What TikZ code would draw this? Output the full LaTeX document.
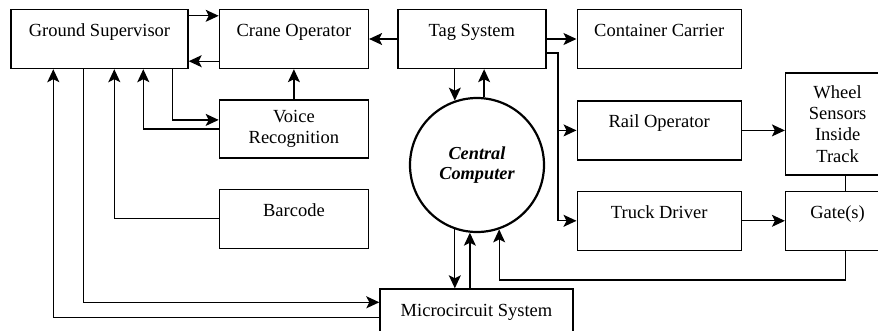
\documentclass[tikz,border=0pt]{standalone}
\usepackage{fontspec}
\setmainfont{Liberation Serif}
\newfontfamily\diagfont{Liberation Serif}
\usetikzlibrary{arrows.meta,positioning}

\begin{document}
\begin{tikzpicture}[
    x=1pt, y=-1pt,
    font=\diagfont\fontsize{18.5}{21.3}\selectfont,
    block/.style={rectangle, draw, line width=1.4pt, inner sep=0pt, text height=27pt, text depth=32pt, text centered},
    mblock/.style={rectangle, draw, line width=1.4pt, inner sep=0pt, align=center},
    hub/.style={circle, draw, line width=2.2pt, minimum size=134pt, inner sep=0pt, align=center, font=\diagfont\fontsize{18.3}{20}\selectfont\bfseries\itshape},
    arrow/.style={-{Stealth[length=13pt, width=12pt, inset=3pt]}, line width=1.3pt},
    link/.style={line width=1.3pt}
]
    \useasboundingbox (0,0) rectangle (878,330);
    \clip (0,0) rectangle (878,330);

    % Nodes
    \node[block, minimum width=177pt] (ground) at (99.5,39) {Ground Supervisor};
    \node[block, minimum width=149pt, right=30pt of ground] (crane) {Crane Operator};
    \node[block, minimum width=148pt, right=28pt of crane] (tag) {Tag System};
    \node[block, minimum width=164pt, right=30pt of tag] (carrier) {Container Carrier};
    \node[mblock, minimum width=149pt, minimum height=58pt, below=30pt of crane] (voice) {Voice\\Recognition};
    \node[block, minimum width=149pt, below=30pt of voice] (barcode) {Barcode};
    \node[block, minimum width=164pt, below=31pt of carrier] (rail) {Rail Operator};
    \node[block, minimum width=164pt, below=30pt of rail] (truck) {Truck Driver};
    \node[block, minimum width=104pt, right=43pt of truck] (gate) {Gate(s)};
    \node[mblock, minimum width=104pt, minimum height=102pt, above=15pt of gate] (wheel) {Wheel\\Sensors\\Inside\\Track};
    \node[hub] (cpu) at (477,165) {Central\\Computer};
    \node[block, minimum width=193pt] (micro) at (476.5,318.5) {Microcircuit System};

    % Arrows
    \draw[arrow] ([yshift=-7pt]ground.north east) -- ([yshift=-7pt]crane.north west);
    \draw[arrow] ([yshift=8pt]crane.south west) -- ([yshift=8pt]ground.south east);
    \draw[arrow] (tag.west) -- (crane.east);
    \draw[arrow] (tag.east) -- (carrier.west);
    \draw[arrow] (voice.north) -- (crane.south);
    \draw[arrow] ([xshift=162pt]ground.south west) |- ([yshift=9pt]voice.west);
    \draw[arrow] (voice.west) -| ([xshift=133pt]ground.south west);
    \draw[arrow] (barcode.west) -| ([xshift=104pt]ground.south west);
    \draw[arrow] ([xshift=73pt]ground.south west) |- ([yshift=-14pt]micro.north west);
    \draw[arrow] ([yshift=-29pt]micro.north west) -| ([xshift=43pt]ground.south west);

    % Tag System out to rail and truck
    \coordinate (bus) at (558,53);
    \draw[arrow] (tag.east |- bus) -- (bus) |- (truck.west);
    \draw[arrow] (bus |- rail.west) -- (rail.west);
    \draw[arrow] (rail.east) -- (wheel.west |- rail.east);
    \draw[arrow] (truck.east) -- (gate.west);
    \draw[link] ([xshift=8pt]wheel.south) -- ([xshift=8pt]gate.north);
    \draw[arrow] ([xshift=8pt]gate.south) -- ++(0,29) -| (cpu.-71);

    % Central Computer links
    \draw[arrow] (tag.south -| cpu.109) -- (cpu.109);
    \draw[arrow] (cpu.84) -- (tag.south -| cpu.84);
    \draw[arrow] (cpu.-109) -- (micro.north -| cpu.-109);
    \draw[arrow] (micro.north -| cpu.-96) -- (cpu.-96);
\end{tikzpicture}
\end{document}
